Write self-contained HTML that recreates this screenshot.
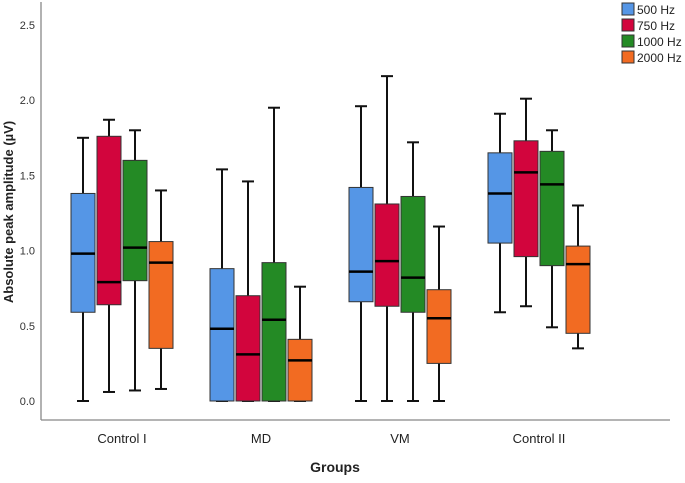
<!DOCTYPE html>
<html><head><meta charset="utf-8"><style>
body{margin:0;background:#fff;font-family:"Liberation Sans",sans-serif}
svg text{font-family:"Liberation Sans",sans-serif}
</style></head><body>
<svg id="c" width="685" height="478"></svg>
<script>
const groups=["Control I","MD","VM","Control II"];
const series=["500 Hz","750 Hz","1000 Hz","2000 Hz"];
const colors=["#5596e6","#d2053d","#248a25","#f26b22"];
const ticks=[0,0.5,1,1.5,2,2.5];
// [low, q1, median, q3, high] per group per series
const blue=[[0,0.59,0.98,1.38,1.75],[0,0,0.48,0.88,1.54],[0,0.66,0.86,1.42,1.96],[0.59,1.05,1.38,1.65,1.91]];
const red=[[0.06,0.64,0.79,1.76,1.87],[0,0,0.31,0.70,1.46],[0,0.63,0.93,1.31,2.16],[0.63,0.96,1.52,1.73,2.01]];
const green=[[0.07,0.80,1.02,1.60,1.80],[0,0,0.54,0.92,1.95],[0,0.59,0.82,1.36,1.72],[0.49,0.90,1.44,1.66,1.80]];
const orange=[[0.08,0.35,0.92,1.06,1.40],[0,0,0.27,0.41,0.76],[0,0.25,0.55,0.74,1.16],[0.35,0.45,0.91,1.03,1.30]];
const all=[blue,red,green,orange];
const NS="http://www.w3.org/2000/svg",svg=document.getElementById('c');
function mk(t,a,p){const e=document.createElementNS(NS,t);for(const k in a)e.setAttribute(k,a[k]);(p||svg).appendChild(e);return e;}
const y=v=>401-150.4*v;
const x=i=>122+139*i;
let e;
e=mk('line',{x1:41,y1:2,x2:41,y2:420,stroke:'#888','stroke-width':1.3});

e=mk('line',{x1:41,y1:420,x2:670,y2:420,stroke:'#888','stroke-width':1.3});

ticks.forEach(t=>{e=mk('text',{x:35,y:y(t)+4,'text-anchor':'end','font-size':11,fill:'#333'});e.textContent=t.toFixed(1);
});
groups.forEach((g,i)=>{e=mk('text',{x:x(i),y:443,'text-anchor':'middle','font-size':13,fill:'#222'});e.textContent=g;
});
e=mk('text',{x:335,y:472,'text-anchor':'middle','font-size':14,'font-weight':'bold',fill:'#222'});e.textContent='Groups';

e=mk('text',{x:0,y:0,'text-anchor':'middle','font-size':13,'font-weight':'bold',fill:'#222',transform:'translate(13,212) rotate(-90)'});e.textContent='Absolute peak amplitude (µV)';

const bw=24;
groups.forEach((g,i)=>{all.forEach((s,j)=>{
 const d=s[i],cx=x(i)-39+26*j;
 const gr=mk('g',{});
 mk('line',{x1:cx,x2:cx,y1:y(d[4]),y2:y(d[3]),stroke:'#111','stroke-width':2},gr);
 mk('line',{x1:cx,x2:cx,y1:y(d[1]),y2:y(d[0]),stroke:'#111','stroke-width':2},gr);
 mk('line',{x1:cx-6,x2:cx+6,y1:y(d[4]),y2:y(d[4]),stroke:'#111','stroke-width':2},gr);
 mk('line',{x1:cx-6,x2:cx+6,y1:y(d[0]),y2:y(d[0]),stroke:'#111','stroke-width':2},gr);
 mk('rect',{x:cx-bw/2,y:y(d[3]),width:bw,height:Math.max(0,y(d[1])-y(d[3])),fill:colors[j],stroke:'#333','stroke-width':1},gr);
 mk('line',{x1:cx-bw/2,x2:cx+bw/2,y1:y(d[2]),y2:y(d[2]),stroke:'#000','stroke-width':2.5},gr);
});});
series.forEach((s,j)=>{const gr=mk('g',{});
 mk('rect',{x:622,y:3+16*j,width:12,height:12,fill:colors[j],stroke:'#333','stroke-width':1},gr);
 const t=mk('text',{x:637,y:14+16*j,'font-size':12,fill:'#222'},gr);t.textContent=s;});
</script>
</body></html>
